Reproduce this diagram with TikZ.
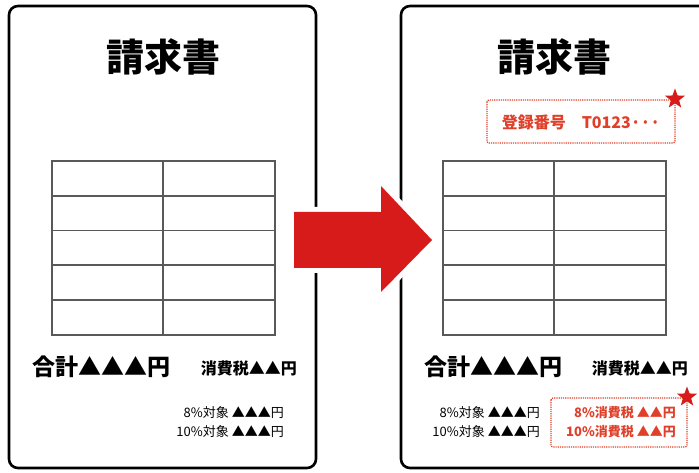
\documentclass[tikz,border=0pt]{standalone}
\usepackage{fontspec}
\newfontfamily\jpfont{Noto Sans CJK JP}
\colorlet{BordeHoja}{black}
\colorlet{LineaTabla}{black!65}
\definecolor{RojoFlecha}{HTML}{D71A1A}
\definecolor{RojoTexto}{HTML}{E0402A}
\usetikzlibrary{shapes.geometric}
\tikzset{
    hoja/.style={draw=BordeHoja, line width=2.6pt, rounded corners=9pt},
    tabla/.style={draw=LineaTabla, line width=1.8pt},
    titulo/.style={font=\jpfont\bfseries\fontsize{38}{40}\selectfont, inner sep=0pt},
    total/.style={font=\jpfont\bfseries\fontsize{23}{25}\selectfont, inner sep=0pt},
    impuesto/.style={font=\jpfont\bfseries\fontsize{16}{18}\selectfont, inner sep=0pt},
    detalle/.style={font=\jpfont\fontsize{13}{15}\selectfont, inner sep=0pt},
    detalle rojo/.style={font=\jpfont\bfseries\fontsize{13}{15}\selectfont, text=RojoTexto, inner sep=0pt},
    recuadro/.style={draw=RojoTexto, line width=1.2pt, densely dotted, rounded corners=2pt},
    estrella/.style={star, star points=5, star point ratio=2.4, fill=RojoFlecha, minimum size=21pt, inner sep=0pt},
    flecha/.style={fill=RojoFlecha, preaction={draw=white, line width=10pt}},
}
\begin{document}
\begin{tikzpicture}[x=1pt, y=-1pt]
\useasboundingbox (0,0) rectangle (699,473);
\clip (0,0) rectangle (699,473);

% Hojas
\draw[hoja] (9,6) rectangle (316,468);
\draw[hoja] (401,6) rectangle (760,468);

% Tablas (5 filas, 2 columnas)
\foreach \dx in {0,391} {
    \begin{scope}[xshift=\dx]
        \draw[tabla] (52,161) rectangle (275,335);
        \draw[tabla] (163,161) -- (163,335);
        \foreach \i in {1,...,4}
            \draw[tabla] (52,161+34.8*\i) -- (275,161+34.8*\i);
    \end{scope}
}

% Titulos
\node[titulo] (tituloA) at (163,57) {請求書};
\node[titulo] (tituloB) at (554,57) {請求書};

% Hoja izquierda
\node[total, anchor=west] (totalA) at (32,367) {合計▲▲▲円};
\node[impuesto, anchor=east] (impA) at (297,368) {消費税▲▲円};
\node[detalle, anchor=east] (ochoA) at (284,413) {8\%対象 ▲▲▲円};
\node[detalle, anchor=east] (diezA) at (284,432) {10\%対象 ▲▲▲円};

% Hoja derecha
\node[total, anchor=west] (totalB) at (424,367) {合計▲▲▲円};
\node[impuesto, anchor=east] (impB) at (688,368) {消費税▲▲円};
\node[detalle, anchor=east] (ochoB) at (540,413) {8\%対象 ▲▲▲円};
\node[detalle, anchor=east] (diezB) at (540,432) {10\%対象 ▲▲▲円};

% Recuadros nuevos, en rojo
\draw[recuadro] (487,100) rectangle (675,143);
\node[font=\jpfont\bfseries\fontsize{16}{18}\selectfont, text=RojoTexto] (registro) at (581,122) {登録番号\quad T0123···};
\node[estrella] (estrellaA) at (675,99) {};

\draw[recuadro] (551,398) rectangle (687,447);
\node[detalle rojo, anchor=east] (ochoC) at (676,413) {8\%消費税 ▲▲円};
\node[detalle rojo, anchor=east] (diezC) at (676,432) {10\%消費税 ▲▲円};
\node[estrella] (estrellaB) at (687,397) {};

% Flecha (con halo blanco que corta los bordes)
\path[flecha] (294,212) -- (381,212) -- (381,186) -- (432,240)
    -- (381,292) -- (381,268) -- (294,268) -- cycle;
\end{tikzpicture}
\end{document}
